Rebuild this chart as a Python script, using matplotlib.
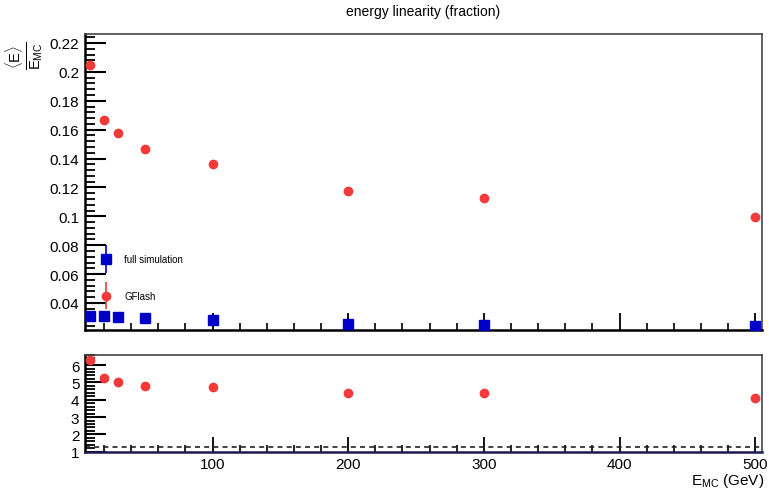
import numpy as np
import matplotlib
matplotlib.use('Agg')
import matplotlib.pyplot as plt
from matplotlib.ticker import MultipleLocator, FixedLocator
from matplotlib.legend_handler import HandlerErrorbar

plt.rcParams['font.family'] = ['Liberation Sans', 'DejaVu Sans']
plt.rcParams['mathtext.fontset'] = 'custom'
plt.rcParams['mathtext.rm'] = 'Liberation Sans'
plt.rcParams['mathtext.it'] = 'Liberation Sans:italic'

energy = [10, 20, 30, 50, 100, 200, 300, 500]
gflash = [0.205, 0.1665, 0.158, 0.1465, 0.136, 0.1175, 0.1125, 0.0995]
gflash_err = [0.0008, 0.0006, 0.0006, 0.0005, 0.0005, 0.0004, 0.0004, 0.0004]
fullsim = [0.0312, 0.0308, 0.0300, 0.0294, 0.0280, 0.0258, 0.0245, 0.0240]
fullsim_err = [0.0004, 0.0003, 0.0003, 0.0003, 0.0003, 0.0003, 0.0003, 0.0003]
ratio = [6.3, 5.25, 5.05, 4.82, 4.72, 4.4, 4.4, 4.1]
ref_line = 1.3

red = '#f23a3a'
blue = '#0000c8'

fig = plt.figure(figsize=(7.69, 4.89), dpi=100)
ax = fig.add_axes([0.1105, 0.3231, 0.8805, 0.6053])
axr = fig.add_axes([0.1105, 0.0742, 0.8805, 0.1984])

h_full = ax.errorbar(energy, fullsim, yerr=fullsim_err, fmt='s', color=blue,
                     ms=6.5, elinewidth=1.2, capsize=0, clip_on=True, zorder=3)
h_gf = ax.errorbar(energy, gflash, yerr=gflash_err, fmt='o', color=red,
                   ms=6, elinewidth=1.2, capsize=0, zorder=3)

ax.set_xlim(6, 505)
ax.set_ylim(0.0213, 0.2262)
ax.xaxis.set_major_locator(MultipleLocator(100))
ax.xaxis.set_minor_locator(MultipleLocator(20))
ax.yaxis.set_minor_locator(MultipleLocator(0.004))
ax.set_yticks([0.04, 0.06, 0.08, 0.1, 0.12, 0.14, 0.16, 0.18, 0.2, 0.22])
ax.set_yticklabels(['0.04', '0.06', '0.08', '0.1', '0.12', '0.14', '0.16', '0.18', '0.2', '0.22'])
ax.tick_params(axis='x', which='both', direction='in', labelbottom=False)
ax.tick_params(axis='x', which='major', length=12, width=1.3)
ax.tick_params(axis='x', which='minor', length=5, width=1.2)
ax.tick_params(axis='y', which='major', direction='in', length=15, width=1.5, labelsize=11, pad=4)
ax.tick_params(axis='y', which='minor', direction='in', length=7, width=1.3)

axr.plot(energy, ratio, 'o', color=red, ms=6, zorder=3, clip_on=False)
axr.axhline(ref_line, color='#222222', lw=1.2, ls=(0, (3, 2.5)))
axr.set_xlim(6, 505)
axr.set_ylim(1.0, 6.6)
axr.xaxis.set_minor_locator(MultipleLocator(20))
axr.yaxis.set_major_locator(FixedLocator([1, 2, 3, 4, 5, 6]))
axr.yaxis.set_minor_locator(MultipleLocator(0.2))
axr.set_xticks([100, 200, 300, 400, 500])
axr.tick_params(axis='x', which='major', direction='in', length=11, width=1.3, labelsize=11, pad=4)
axr.tick_params(axis='x', which='minor', direction='in', length=5, width=1.2)
axr.tick_params(axis='y', which='major', direction='in', length=15, width=1.5, labelsize=11, pad=4)
axr.tick_params(axis='y', which='minor', direction='in', length=7, width=1.3)

for a in (ax, axr):
    a.spines['left'].set_linewidth(1.8)
    a.spines['bottom'].set_linewidth(1.8)
    a.spines['top'].set_linewidth(1.2)
    a.spines['right'].set_linewidth(1.2)
    a.spines['top'].set_color('#444444')
    a.spines['right'].set_color('#444444')
axr.spines['bottom'].set_color('#1a1a50')

leg = ax.legend([h_full, h_gf], ['full simulation', 'GFlash'], loc='upper left',
                bbox_to_anchor=(0.0136, 0.272), frameon=False, fontsize=7,
                labelspacing=2.75, handlelength=1.5, handletextpad=1.1, borderpad=0,
                handler_map={type(h_full): HandlerErrorbar(yerr_size=1.4)})

fig.text(0.5507, 0.975, 'energy linearity (fraction)', ha='center', va='center', fontsize=10)
fig.text(0.032, 0.885, r'$\frac{\langle\mathrm{E}\rangle}{\mathrm{E}_{\mathrm{MC}}}$', rotation=90,
         ha='center', va='center', fontsize=15)
fig.text(0.994, 0.017, r'E$_{\mathrm{MC}}$ (GeV)', ha='right', va='center', fontsize=11)

fig.savefig('out.png', dpi=100)
